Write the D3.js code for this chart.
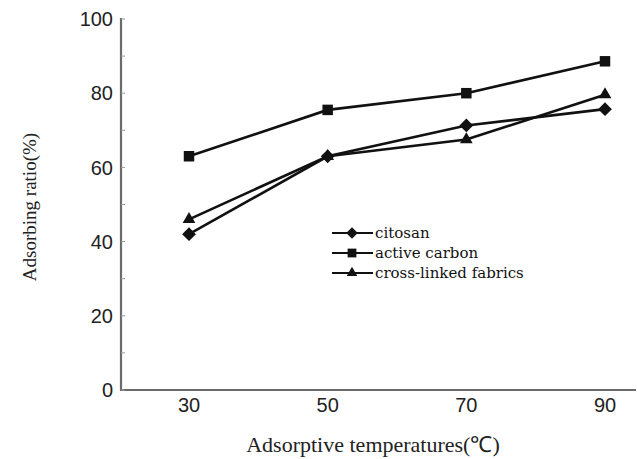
<!DOCTYPE html>
<html>
<head>
<meta charset="utf-8">
<script src="https://cdn.jsdelivr.net/npm/d3@7"></script>
<style>
  body { margin: 0; background: #fff; }
</style>
</head>
<body>
<svg id="chart" width="637" height="459"></svg>
<script>
// data
const temps = [30, 50, 70, 90];
const citosan = [42, 63, 71.3, 75.7];
const activeCarbon = [63, 75.5, 80, 88.6];
const crossLinked = [46, 63, 67.5, 79.6];
const yTicks = [0, 20, 40, 60, 80, 100];
const seriesNames = ["citosan", "active carbon", "cross-linked fabrics"];

const svg = d3.select("#chart");

// scales
const x = d3.scaleLinear().domain([30, 90]).range([189, 605]);
const y = d3.scaleLinear().domain([0, 100]).range([390, 19]);

const series = [
  { name: seriesNames[0], values: citosan, symbol: d3.symbolDiamond2, size: 120 },
  { name: seriesNames[1], values: activeCarbon, symbol: d3.symbolSquare, size: 110 },
  { name: seriesNames[2], values: crossLinked, symbol: d3.symbolTriangle, size: 70 }
];

// axes (grey, grainy look)
const axisCol = "#6b6b6b";
svg.append("line")
  .attr("x1", 121).attr("x2", 121)
  .attr("y1", y(100) - 1).attr("y2", y(0) + 1)
  .attr("stroke", axisCol).attr("stroke-width", 2.2);
svg.append("line")
  .attr("x1", 120).attr("x2", 636)
  .attr("y1", y(0)).attr("y2", y(0))
  .attr("stroke", axisCol).attr("stroke-width", 2.2);

// small inward ticks on y axis (every 10)
svg.selectAll(".ytk")
  .data(d3.range(0, 101, 10))
  .enter().append("line")
  .attr("x1", 121).attr("x2", 125)
  .attr("y1", d => y(d)).attr("y2", d => y(d))
  .attr("stroke", "#999").attr("stroke-width", 1);

// y tick labels
svg.selectAll(".ylab")
  .data(yTicks)
  .enter().append("text")
  .attr("x", 113)
  .attr("y", d => y(d))
  .attr("dy", "0.36em")
  .attr("text-anchor", "end")
  .style("font-family", "'Liberation Sans', Arial, sans-serif")
  .style("font-size", "20px")
  .attr("fill", "#222")
  .text(d => d);

// x tick labels
svg.selectAll(".xlab")
  .data(temps)
  .enter().append("text")
  .attr("x", d => x(d))
  .attr("y", 412)
  .attr("text-anchor", "middle")
  .style("font-family", "'Liberation Sans', Arial, sans-serif")
  .style("font-size", "20px")
  .attr("fill", "#222")
  .text(d => d);

// axis titles
svg.append("text")
  .attr("x", 373).attr("y", 452)
  .attr("text-anchor", "middle")
  .style("font-family", "'Liberation Serif', 'Times New Roman', serif")
  .style("font-size", "22px")
  .attr("fill", "#222")
  .text("Adsorptive temperatures(℃)");

svg.append("text")
  .attr("transform", "translate(36,207) rotate(-90)")
  .attr("text-anchor", "middle")
  .style("font-family", "'Liberation Serif', 'Times New Roman', serif")
  .style("font-size", "19px")
  .attr("fill", "#222")
  .text("Adsorbing ratio(%)");

// lines and markers
const line = d3.line()
  .x((d, i) => x(temps[i]))
  .y(d => y(d));

series.forEach(s => {
  svg.append("path")
    .datum(s.values)
    .attr("d", line)
    .attr("fill", "none")
    .attr("stroke", "#111")
    .attr("stroke-width", 2.6);

  svg.selectAll(null)
    .data(s.values)
    .enter().append("path")
    .attr("transform", (d, i) => `translate(${x(temps[i])},${y(d)})`)
    .attr("d", d3.symbol().type(s.symbol).size(s.size))
    .attr("fill", "#111");
});

// legend
const legY = d3.scalePoint().domain(seriesNames).range([233, 273]);
series.forEach(s => {
  const ly = legY(s.name);
  svg.append("line")
    .attr("x1", 332).attr("x2", 373)
    .attr("y1", ly).attr("y2", ly)
    .attr("stroke", "#111").attr("stroke-width", 2);
  svg.append("path")
    .attr("transform", `translate(352,${ly})`)
    .attr("d", d3.symbol().type(s.symbol).size(s.size * 0.7))
    .attr("fill", "#111");
  svg.append("text")
    .attr("x", 375).attr("y", ly)
    .attr("dy", "0.32em")
    .style("font-family", "'DejaVu Serif', serif")
    .style("font-size", "15px")
    .attr("fill", "#111")
    .text(s.name);
});
</script>
</body>
</html>
